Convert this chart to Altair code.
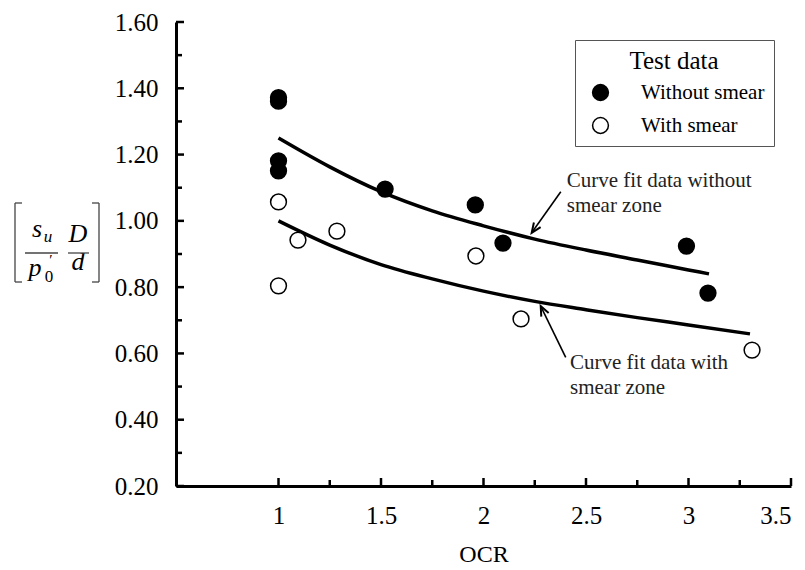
import altair as alt
import pandas as pd

# ---------------- data ----------------
without_x = [1.0, 1.0, 1.0, 1.0, 1.52, 1.96, 2.095, 2.99, 3.095]
without_y = [1.372, 1.361, 1.181, 1.151, 1.096, 1.048, 0.933, 0.924, 0.782]
with_x = [1.0, 1.0, 1.095, 1.285, 1.963, 2.183, 3.31]
with_y = [1.057, 0.804, 0.942, 0.969, 0.894, 0.704, 0.610]

fit_without_x = [1.0, 1.25, 1.5, 1.75, 2.0, 2.25, 2.5, 2.75, 3.0, 3.1]
fit_without_y = [1.25, 1.163, 1.088, 1.03, 0.985, 0.945, 0.912, 0.882, 0.852, 0.84]
fit_with_x = [1.0, 1.25, 1.5, 1.75, 2.0, 2.25, 2.5, 2.75, 3.0, 3.3]
fit_with_y = [1.0, 0.927, 0.868, 0.825, 0.788, 0.757, 0.732, 0.708, 0.686, 0.659]

series_names = ["Without smear", "With smear"]

x_major = [1.0, 1.5, 2.0, 2.5, 3.0, 3.5]
x_minor = [1.25, 1.75, 2.25, 2.75, 3.25]
y_major = [0.2, 0.4, 0.6, 0.8, 1.0, 1.2, 1.4, 1.6]
y_minor = [0.3, 0.5, 0.7, 0.9, 1.1, 1.3, 1.5]

note_x = [2.406, 2.406, 2.422, 2.422]
note_y = [1.102, 1.027, 0.552, 0.478]
note_text = ["Curve fit data without", "smear zone", "Curve fit data with", "smear zone"]

arrow_tail_x = [2.377, 2.401]
arrow_tail_y = [1.088, 0.588]
arrow_head_x = [2.235, 2.279]
arrow_head_y = [0.964, 0.743]
arrow_angle = [215, 334]

# ---------------- layout / style ----------------
W, H = 615, 464
FONT = "Liberation Serif"

xs = alt.Scale(domain=[0.5, 3.5], nice=False, zero=False)
ys = alt.Scale(domain=[0.2, 1.6], nice=False, zero=False)

x_axis = alt.Axis(values=x_major, format="~g", ticks=False, grid=False,
                  domainWidth=3, domainColor="black",
                  labelFont=FONT, labelFontSize=25, labelColor="black", labelPadding=17,
                  title="OCR", titleFont=FONT, titleFontSize=24, titleFontWeight="normal",
                  titleColor="black", titlePadding=14)
y_axis = alt.Axis(values=y_major, format=".2f", ticks=False, grid=False,
                  domainWidth=3, domainColor="black",
                  labelFont=FONT, labelFontSize=25, labelColor="black", labelPadding=18,
                  title=None)

X = alt.X("x:Q", scale=xs, axis=x_axis)
Y = alt.Y("y:Q", scale=ys, axis=y_axis)

# ---------------- tables ----------------
pts_df = pd.concat([
    pd.DataFrame({"x": without_x, "y": without_y, "series": series_names[0]}),
    pd.DataFrame({"x": with_x, "y": with_y, "series": series_names[1]}),
], ignore_index=True)

fit_df = pd.concat([
    pd.DataFrame({"x": fit_without_x, "y": fit_without_y, "curve": "without"}),
    pd.DataFrame({"x": fit_with_x, "y": fit_with_y, "curve": "with"}),
], ignore_index=True)

notes_df = pd.DataFrame({"x": note_x, "y": note_y, "text": note_text})
arrows_df = pd.DataFrame({"x": arrow_tail_x, "y": arrow_tail_y,
                          "x2": arrow_head_x, "y2": arrow_head_y})
heads_df = pd.DataFrame({"x": arrow_head_x, "y": arrow_head_y, "angle": arrow_angle})

# ---------------- layers ----------------
curves = alt.Chart(fit_df).mark_line(color="black", strokeWidth=3.5, interpolate="monotone").encode(
    x=X, y=Y, detail="curve:N")

points = alt.Chart(pts_df).mark_circle(size=250, stroke="black", strokeWidth=1.5, opacity=1).encode(
    x=X, y=Y,
    fill=alt.Fill("series:N",
                  scale=alt.Scale(domain=series_names, range=["black", "white"]),
                  legend=alt.Legend(title="Test data", orient="none", legendX=399, legendY=18,
                                    direction="vertical",
                                    titleFont=FONT, titleFontSize=25, titleFontWeight="normal",
                                    titleColor="black", titleAnchor="middle", titlePadding=8,
                                    labelFont=FONT, labelFontSize=21, labelColor="black",
                                    symbolType="circle", symbolSize=250,
                                    symbolStrokeColor="black", symbolStrokeWidth=1.5,
                                    symbolOffset=6, labelOffset=30, rowPadding=10,
                                    strokeColor="#555", fillColor="white", padding=9)))

ytick_major = alt.Chart(pd.DataFrame({"y": y_major})).mark_rule(color="black", strokeWidth=2.5).encode(
    y=Y, x=alt.value(0), x2=alt.value(8))
ytick_minor = alt.Chart(pd.DataFrame({"y": y_minor})).mark_rule(color="black", strokeWidth=2.5).encode(
    y=Y, x=alt.value(0), x2=alt.value(6))
xtick_major = alt.Chart(pd.DataFrame({"x": x_major})).mark_rule(color="black", strokeWidth=2.5).encode(
    x=X, y=alt.value(H), y2=alt.value(H - 8))
xtick_minor = alt.Chart(pd.DataFrame({"x": x_minor})).mark_rule(color="black", strokeWidth=2.5).encode(
    x=X, y=alt.value(H), y2=alt.value(H - 6))

notes = alt.Chart(notes_df).mark_text(align="left", baseline="alphabetic", font=FONT,
                                      fontSize=21, color="#222").encode(x=X, y=Y, text="text:N")

arrow_lines = alt.Chart(arrows_df).mark_rule(color="black", strokeWidth=1.6).encode(
    x=X, y=Y, x2="x2:Q", y2="y2:Q")

arrow_heads = alt.Chart(heads_df).mark_point(shape="M-0.42,1L0,0L0.42,1", size=380, filled=False,
                                             stroke="black", strokeWidth=2, opacity=1).encode(
    x=X, y=Y, angle=alt.Angle("angle:Q", scale=None))

# y-axis title  [ s_u / p'_0  *  D / d ]  built from text pieces (pixel offsets from plot origin)
title_pieces = [
    ("s", -139, 215, 26, "italic"),
    ("u", -128, 220, 17, "italic"),
    ("p", -141, 254, 26, "italic"),
    ("0", -127, 260, 17, "normal"),
    ("\u2032", -125, 243, 15, "normal"),
    ("D", -98, 220, 26, "italic"),
    ("d", -98, 248, 26, "italic"),
]
title_layers = []
for txt, px, py, fs, style in title_pieces:
    title_layers.append(
        alt.Chart(pd.DataFrame({"t": [txt]})).mark_text(
            text=txt, font=FONT, fontSize=fs, fontStyle=style, align="center",
            baseline="alphabetic", color="black").encode(x=alt.value(px), y=alt.value(py)))

title_segments = [
    (-161, 181, -161, 260), (-161, 181, -154, 181), (-161, 260, -154, 260),
    (-77, 181, -77, 260), (-84, 181, -77, 181), (-84, 260, -77, 260),
    (-151, 231, -118, 231), (-108, 231, -87, 231),
]
for x1, y1, x2, y2 in title_segments:
    title_layers.append(
        alt.Chart(pd.DataFrame({"t": [0]})).mark_rule(color="#444", strokeWidth=1.3).encode(
            x=alt.value(x1), y=alt.value(y1), x2=alt.value(x2), y2=alt.value(y2)))

chart = alt.layer(
    curves, points, ytick_major, ytick_minor, xtick_major, xtick_minor,
    notes, arrow_lines, arrow_heads, *title_layers
).properties(
    width=W, height=H,
    padding={"left": 168, "top": 14, "right": 6, "bottom": 82},
    autosize=alt.AutoSizeParams(type="none"),
).configure_view(stroke=None)

chart.save("out.html", embed_options={"renderer": "svg", "actions": False})
